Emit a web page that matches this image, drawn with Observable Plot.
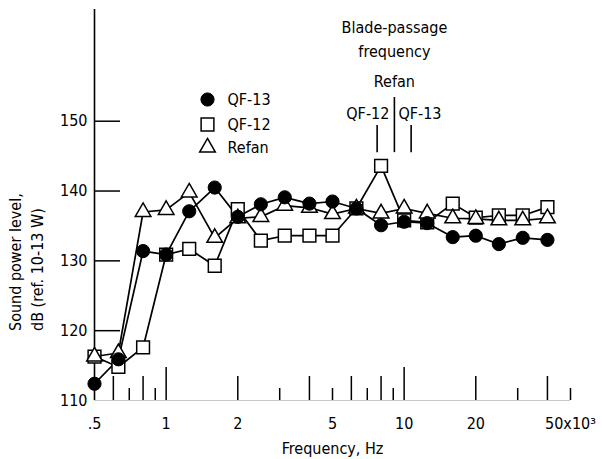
<!DOCTYPE html>
<html><head><meta charset="utf-8">
<script src="https://cdn.jsdelivr.net/npm/d3@7"></script>
<script src="https://cdn.jsdelivr.net/npm/@observablehq/plot@0.6"></script>
<style>
html,body{margin:0;padding:0;background:#fff;}
#chart svg{display:block;}
</style></head><body><div id="chart"></div>
<script>
// One-third-octave band centre frequencies, kHz
const freqs = [0.5,0.63,0.8,1,1.25,1.6,2,2.5,3.15,4,5,6.3,8,10,12.5,16,20,25,31.5,40];
// Sound power level, dB (ref. 10-13 W)
const qf13  = [112.4,115.9,131.4,130.9,137.1,140.5,136.3,138.1,139.1,138.2,138.5,137.5,135.1,135.6,135.4,133.4,133.6,132.4,133.3,133.0];
const qf12  = [116.3,114.8,117.6,130.9,131.7,129.3,137.4,132.9,133.6,133.6,133.6,137.5,143.6,135.8,135.5,138.2,136.2,136.5,136.5,137.7];
const refan = [116.3,116.8,137.0,137.3,139.8,133.3,136.1,136.3,137.9,137.6,136.7,137.5,136.8,137.5,136.8,136.1,136.0,135.8,135.8,136.1];

// Axis ticks and labels
const xLabelVals = [0.5,1,2,5,10,20,50];
const xTickLong  = [1,10];
const xTickMid   = [0.6,0.8,2,4,6,8,20,40];
const xTickShort = [0.7,0.9,3,5,7,9,30,50];
const yLabelVals = [110,120,130,140,150];
const yTickVals  = [120,130,140,150];

// Blade-passage frequency annotation
const bpfNames = ["QF-12","Refan","QF-13"];
const bpfFreq  = [7.7, 9.1, 10.7];
const bpfTop   = [149.4, 153.4, 149.4];
const bpfBase  = 145.5;
const titleLines = ["Blade-passage","frequency"];
const titleY     = [163.4, 160.0];
const refanLabelY = 155.7;
const sideLabelY  = 151.1;

const seriesNames = ["QF-13","QF-12","Refan"];

const W = 602, H = 459;
const mL = 94, mR = 32, mT = 9, mB = 59;
const plotW = W - mL - mR, plotH = H - mT - mB;
const FONT = '"DejaVu Sans Condensed", "DejaVu Sans", sans-serif';

const serie = (vals, name) => freqs.map((f, i) => ({f, v: vals[i], name}));
const d13 = serie(qf13, "QF-13"), d12 = serie(qf12, "QF-12"), dR = serie(refan, "Refan");

const lineOpts = {x: "f", y: "v", stroke: "black", strokeWidth: 1.7};
const sqOpts  = {symbol: "square", r: 7.2, fill: "white", stroke: "black", strokeWidth: 1.5};
const triOpts = {symbol: "triangle", r: 5.8, fill: "white", stroke: "black", strokeWidth: 1.5};
const cirOpts = {symbol: "circle", r: 6.6, fill: "black", stroke: "black", strokeWidth: 1};

const xfmt = d => d === 0.5 ? ".5" : d === 50 ? "50x10\u00b3" : String(d);

const bpf = bpfNames.map((n, i) => ({n, f: bpfFreq[i], top: bpfTop[i]}));

const chart = Plot.plot({
  width: W, height: H,
  marginLeft: mL, marginRight: mR, marginTop: mT, marginBottom: mB,
  style: {fontFamily: FONT, fontSize: "16px", color: "black", background: "white"},
  x: {type: "log", domain: [0.5, 50], axis: null},
  y: {domain: [110, 166], axis: null},
  marks: [
    // axes lines
    Plot.ruleY([110], {stroke: "#c8c8c8", strokeWidth: 1}),
    Plot.ruleX([0.5], {stroke: "black", strokeWidth: 1.6}),
    Plot.ruleY(yTickVals, {stroke: "black", strokeWidth: 1.5, insetRight: plotW - 26}),
    Plot.ruleX(xTickLong,  {stroke: "black", strokeWidth: 1.5, insetTop: plotH - 33}),
    Plot.ruleX(xTickMid,   {stroke: "black", strokeWidth: 1.5, insetTop: plotH - 24}),
    Plot.ruleX(xTickShort, {stroke: "black", strokeWidth: 1.5, insetTop: plotH - 12}),
    Plot.axisY({ticks: yLabelVals, tickSize: 0, tickPadding: 7, label: null, fontSize: 16}),
    Plot.axisX({ticks: xLabelVals, tickSize: 0, tickPadding: 17, tickFormat: xfmt, label: null, fontSize: 16}),
    Plot.text(["Frequency, Hz"], {frameAnchor: "bottom", dy: 53, lineAnchor: "bottom", fontSize: 16}),
    Plot.text(["Sound power level,"], {frameAnchor: "left", dx: -79, dy: 126, rotate: -90, textAnchor: "start", lineAnchor: "middle", fontSize: 16}),
    Plot.text(["dB (ref. 10-13 W)"], {frameAnchor: "left", dx: -57, dy: 126, rotate: -90, textAnchor: "start", lineAnchor: "middle", fontSize: 16}),
    // data lines
    Plot.line(dR, lineOpts),
    Plot.line(d12, lineOpts),
    Plot.line(d13, lineOpts),
    // data markers
    Plot.dot(d12, {x: "f", y: "v", ...sqOpts}),
    Plot.dot(dR,  {x: "f", y: "v", ...triOpts}),
    Plot.dot(d13, {x: "f", y: "v", ...cirOpts}),
    // legend
    Plot.dot([seriesNames[0]], {frameAnchor: "top-left", dx: 113, dy: 90, ...cirOpts}),
    Plot.dot([seriesNames[1]], {frameAnchor: "top-left", dx: 113, dy: 115, ...sqOpts}),
    Plot.dot([seriesNames[2]], {frameAnchor: "top-left", dx: 113, dy: 138, ...triOpts}),
    Plot.text([seriesNames[0]], {frameAnchor: "top-left", dx: 133, dy: 90, textAnchor: "start", lineAnchor: "middle", fontSize: 16}),
    Plot.text([seriesNames[1]], {frameAnchor: "top-left", dx: 133, dy: 115, textAnchor: "start", lineAnchor: "middle", fontSize: 16}),
    Plot.text([seriesNames[2]], {frameAnchor: "top-left", dx: 133, dy: 138, textAnchor: "start", lineAnchor: "middle", fontSize: 16}),
    // blade-passage annotation
    Plot.ruleX(bpf, {x: "f", y1: bpfBase, y2: "top", stroke: "black", strokeWidth: 1.6}),
    Plot.text(titleLines, {x: bpfFreq[1], y: (d, i) => titleY[i], text: d => d, fontSize: 16}),
    Plot.text([bpfNames[1]], {x: bpfFreq[1], y: refanLabelY, fontSize: 16}),
    Plot.text([bpfNames[0]], {x: bpfFreq[1], y: sideLabelY, textAnchor: "end", dx: -5, fontSize: 16}),
    Plot.text([bpfNames[2]], {x: bpfFreq[1], y: sideLabelY, textAnchor: "start", dx: 4, fontSize: 16})
  ]
});
document.getElementById("chart").appendChild(chart);
</script>
</body></html>
